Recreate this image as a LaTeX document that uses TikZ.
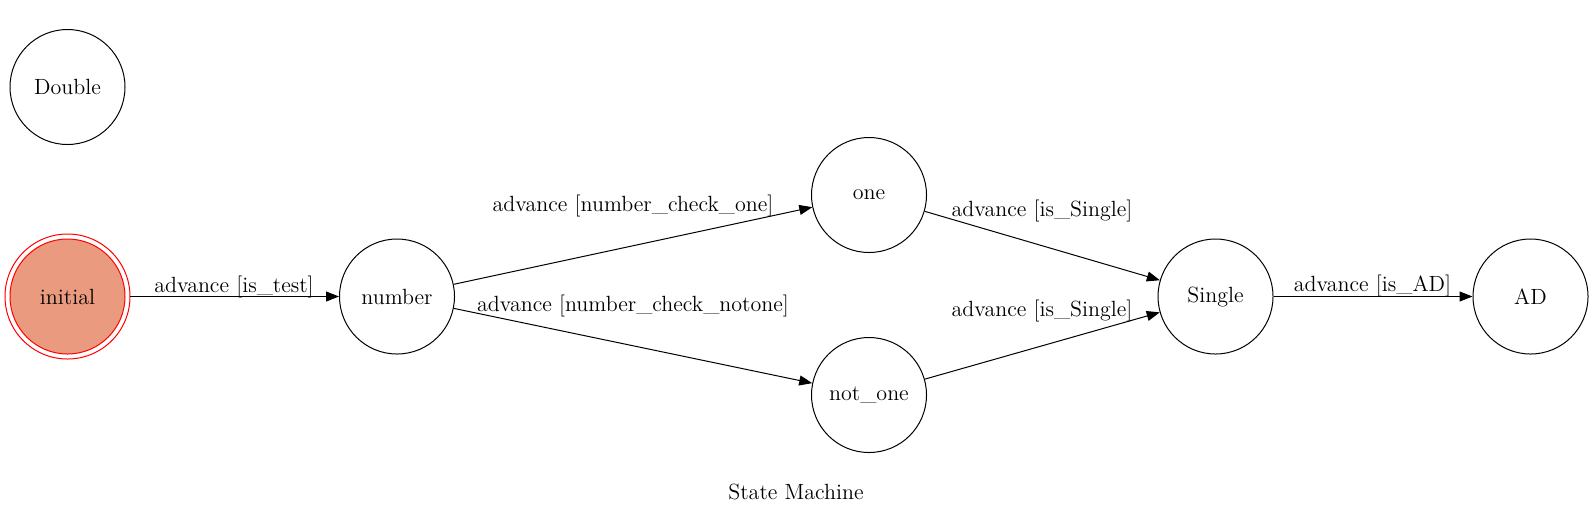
\documentclass[tikz,border=0pt]{standalone}
\usetikzlibrary{arrows.meta}
\definecolor{salmonfill}{HTML}{EA9A7E}
\begin{document}
\begin{tikzpicture}[x=0.5pt,y=-0.5pt,
  every node/.style={font=\fontsize{11}{13}\selectfont},
  state/.style={circle,draw,line width=0.5pt,minimum size=57.5pt,inner sep=0pt},
  initstate/.style={state,draw=red,fill=salmonfill},
  conn/.style={line width=0.5pt,-{Triangle[length=6.5pt,width=5pt]}},
  lbl/.style={anchor=base,inner sep=0pt}]
\useasboundingbox (0,0) rectangle (1593,516);
\node[state] (double) at (67.5,87) {Double};
\node[initstate] (initial) at (67.5,296.5) {initial};
\draw[red,line width=0.5pt] (initial.center) circle[radius=31.25pt];
\node[state] (number) at (397,296.5) {number};
\node[state] (one) at (869,195) {one};
\node[state] (notone) at (869,395) {not\_one};
\node[state] (single) at (1215.5,296.5) {Single};
\node[state] (ad) at (1530.5,296.5) {AD};
\coordinate (initout) at ([xshift=31.25pt]initial.center);
\draw[conn] (initout) -- (number);
\draw[conn] (number) -- (one);
\draw[conn] (number) -- (notone);
\draw[conn] (one) -- (single);
\draw[conn] (notone) -- (single);
\draw[conn] (single) -- (ad);
\node[lbl] (l1) at (234,292) {advance [is\_test]};
\node[lbl] (l2) at (633,211.5) {advance [number\_check\_one]};
\node[lbl] (l3) at (633,311.5) {advance [number\_check\_notone]};
\node[lbl] (l4) at (1042,216) {advance [is\_Single]};
\node[lbl] (l5) at (1042,316) {advance [is\_Single]};
\node[lbl] (l6) at (1372.5,291.5) {advance [is\_AD]};
\node[lbl] (title) at (796,499) {State Machine};
\end{tikzpicture}
\end{document}
